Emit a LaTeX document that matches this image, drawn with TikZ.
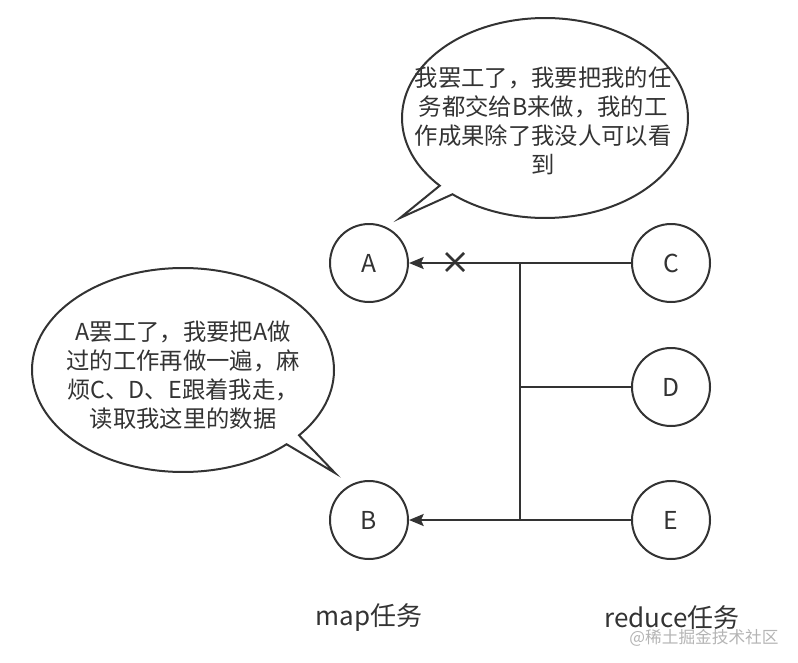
\documentclass[tikz,border=0pt]{standalone}
\usepackage{fontspec}
\setmainfont{Noto Sans CJK SC}
\usetikzlibrary{arrows.meta,positioning,calc}
\definecolor{InkGray}{HTML}{333333}
\definecolor{MarkGray}{HTML}{B4B4B4}

\begin{document}
\begin{tikzpicture}[x=0.75pt,y=0.75pt,
 task/.style={circle,draw=InkGray,line width=1.5pt,minimum size=58.5pt,inner sep=0pt,
 text=InkGray,font=\fontsize{18.5pt}{22pt}\selectfont},
 bubble/.style={draw=InkGray,line width=1.5pt,line join=miter},
 talk/.style={align=center,text=InkGray,font=\fontsize{17.5pt}{21.6pt}\selectfont},
 caption/.style={text=InkGray,font=\fontsize{19.5pt}{23pt}\selectfont},
 flow/.style={-{Stealth[length=11pt,width=9pt,inset=2pt]},line width=1.5pt,draw=InkGray},
 wire/.style={line width=1.5pt,draw=InkGray}]
\useasboundingbox (0,0) rectangle (798,662);
% tasks
\node[task] (A) at (369,399) {A};
\node[task] (B) at (369,142) {B};
\node[task] (C) at (671,399) {C};
\node[task] (D) at (671,275) {D};
\node[task] (E) at (671,142) {E};
\coordinate (top) at (520,399);
\coordinate (mid) at (520,275);
\coordinate (bot) at (520,142);
\coordinate (cut) at (455,400);
% connectors
\draw[flow] (C) -- (A);
\draw[flow] (E) -- (B);
\draw[wire] (D) -- (mid);
\draw[wire] (top) -- (bot);
\draw[line width=2pt,draw=InkGray] ($(cut)+(-9,-9)$) -- ($(cut)+(9,9)$)
 ($(cut)+(-9,9)$) -- ($(cut)+(9,-9)$);
% callouts
\coordinate (c1) at (545,544);
\coordinate (tip1) at (400,444);
\draw[bubble] ($(c1)+(229.7:143 and 100)$) arc[start angle=229.7,end angle=582.6,
 x radius=143,y radius=100] -- (tip1) -- cycle;
\node[talk] (say1) at (543,541) {我罢工了，我要把我的任\\务都交给B来做，我的工\\作成果除了我没人可以看\\到};
\coordinate (c2) at (183,292);
\coordinate (tip2) at (335,189);
\draw[bubble] ($(c2)+(320.2:151 and 102)$) arc[start angle=320.2,end angle=673.3,
 x radius=151,y radius=102] -- (tip2) -- cycle;
\node[talk] (say2) at (183,287) {A罢工了，我要把A做\\过的工作再做一遍，麻\\烦C、D、E跟着我走，\\读取我这里的数据};
% captions
\node[caption] (map) at (369,44) {map任务};
\node[caption] (reduce) at (672,44) {reduce任务};
\node[text=MarkGray,font=\fontsize{12.5pt}{15pt}\selectfont] (mark) at (704,24) {@稀土掘金技术社区};
\end{tikzpicture}
\end{document}
